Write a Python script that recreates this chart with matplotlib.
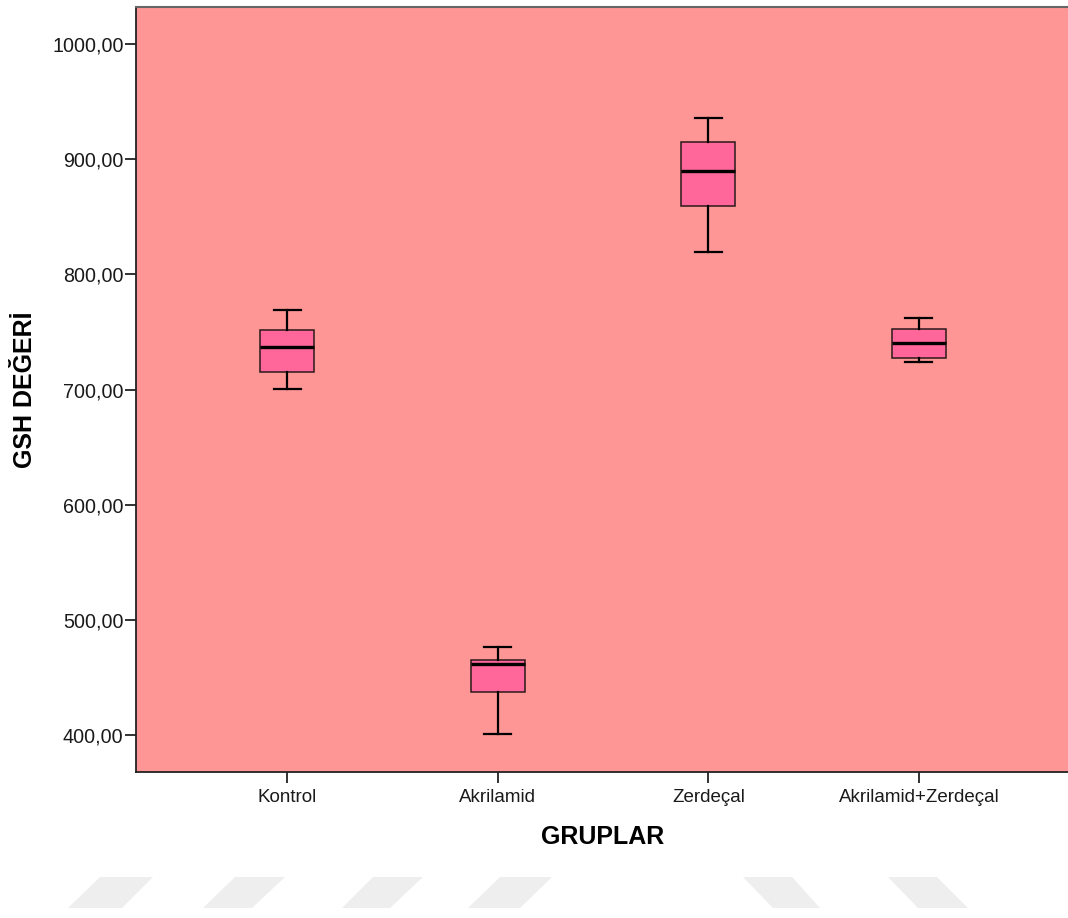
import matplotlib
matplotlib.use("Agg")
import matplotlib.pyplot as plt
from matplotlib.patches import Polygon
from matplotlib.ticker import FuncFormatter

# ---- data ----
groups = ["Kontrol", "Akrilamid", "Zerdeçal", "Akrilamid+Zerdeçal"]
whisker_low = [700.5, 400.8, 819.8, 723.7]
q1 = [715.6, 437.5, 859.5, 727.2]
medians = [737.3, 461.3, 889.9, 740.2]
q3 = [751.8, 465.1, 914.9, 752.6]
whisker_high = [769.2, 476.6, 935.7, 761.9]
yticks = [400, 500, 600, 700, 800, 900, 1000]

plt.rcParams['font.family'] = ['Liberation Sans', 'DejaVu Sans']

fig = plt.figure(figsize=(10.68, 9.18), dpi=100)
fig.patch.set_facecolor('white')

# decorative light-grey parallelograms at the bottom (pixel coords)
W, H = 1068, 918
shapes = [
    [(100, 877), (153, 877), (122, 908), (68, 908)],
    [(235, 877), (285, 877), (252, 908), (203, 908)],
    [(373, 877), (423, 877), (390, 908), (342, 908)],
    [(500, 877), (552, 877), (520, 908), (468, 908)],
    [(743, 877), (792, 877), (820, 908), (773, 908)],
    [(888, 877), (937, 877), (968, 908), (918, 908)],
]
for s in shapes:
    pts = [(x / W, 1 - y / H) for x, y in s]
    fig.patches.append(Polygon(pts, closed=True, transform=fig.transFigure,
                               facecolor='#eeeeee', edgecolor='none', zorder=0))

ax = fig.add_axes([136 / W, (H - 772) / H, 934 / W, 765.5 / H])
ax.set_facecolor('#ff9696')

stats = []
for i, g in enumerate(groups):
    stats.append(dict(label=g, whislo=whisker_low[i], q1=q1[i], med=medians[i],
                      q3=q3[i], whishi=whisker_high[i], fliers=[]))

positions = list(range(1, len(groups) + 1))
ax.bxp(stats, positions=positions, widths=0.256, patch_artist=True, showfliers=False,
       boxprops=dict(facecolor='#ff6699', edgecolor='#2a1a1a', linewidth=1.1),
       medianprops=dict(color='black', linewidth=2.4),
       whiskerprops=dict(color='black', linewidth=1.6),
       capprops=dict(color='black', linewidth=1.6),
       capwidths=0.128)

ax.set_xlim(0.283, 4.717)
ax.set_ylim(367.8, 1032.8)
ax.set_yticks(yticks)
ax.yaxis.set_major_formatter(FuncFormatter(lambda v, p: f"{v:.2f}".replace('.', ',')))
ax.set_xticks(positions)
ax.set_xticklabels(groups)

ax.tick_params(axis='both', direction='out', length=8, width=1.3, color='#222222',
               labelcolor='#1a1a1a')
ax.tick_params(axis='y', pad=1, labelsize=14.2)
ax.tick_params(axis='x', pad=4, labelsize=13.5)

for side in ['left', 'bottom']:
    ax.spines[side].set_color('#222222')
    ax.spines[side].set_linewidth(1.3)
ax.spines['top'].set_color('#666666')
ax.spines['top'].set_linewidth(1.5)
ax.spines['right'].set_visible(False)

ax.set_xlabel("GRUPLAR", fontsize=18, fontweight='bold', labelpad=14)
ax.set_ylabel("GSH DEĞERİ", fontsize=18, fontweight='bold', labelpad=11)

fig.savefig("out.png", dpi=100, facecolor='white')
